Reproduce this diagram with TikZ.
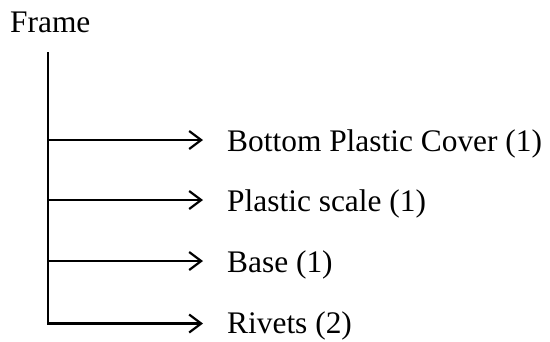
\documentclass[tikz,border=0pt]{standalone}
\usepackage{fontspec}
\setmainfont{Liberation Serif}
\usetikzlibrary{arrows.meta}
\usetikzlibrary{positioning}

\tikzset{
   part/.style={anchor=base west, inner sep=0pt, font=\fontsize{31.4}{36}\selectfont},
   trunk/.style={line width=2.2pt},
   branch/.style={line width=2.2pt, shorten >=24pt,
      -{Straight Barb[length=12pt,width=18pt,line width=2.2pt]}},
}

\begin{document}
\begin{tikzpicture}[x=1pt,y=-1pt]
      \useasboundingbox (0,0) rectangle (550,341);

      \node[part] (frame) at (10,32) {Frame};

      \coordinate (top) at (48,52);
      \coordinate (bot) at (48,325);

      \node[part] (cover) at (227,151) {Bottom Plastic Cover (1)};
      \node[part] (scale) at (227,211) {Plastic scale (1)};
      \node[part] (base)  at (227,272) {Base (1)};
      \node[part] (rivet) at (227,333) {Rivets (2)};

      \coordinate (b1) at (48,140);
      \coordinate (b2) at (48,200);
      \coordinate (b3) at (48,261);
      \coordinate (b4) at (48,323.5);

      \draw[trunk] (top) -- (bot);
      \draw[branch] (b1) -- (b1 -| cover.west);
      \draw[branch] (b2) -- (b2 -| scale.west);
      \draw[branch] (b3) -- (b3 -| base.west);
      \draw[branch] (b4) -- (b4 -| rivet.west);
\end{tikzpicture}
\end{document}
